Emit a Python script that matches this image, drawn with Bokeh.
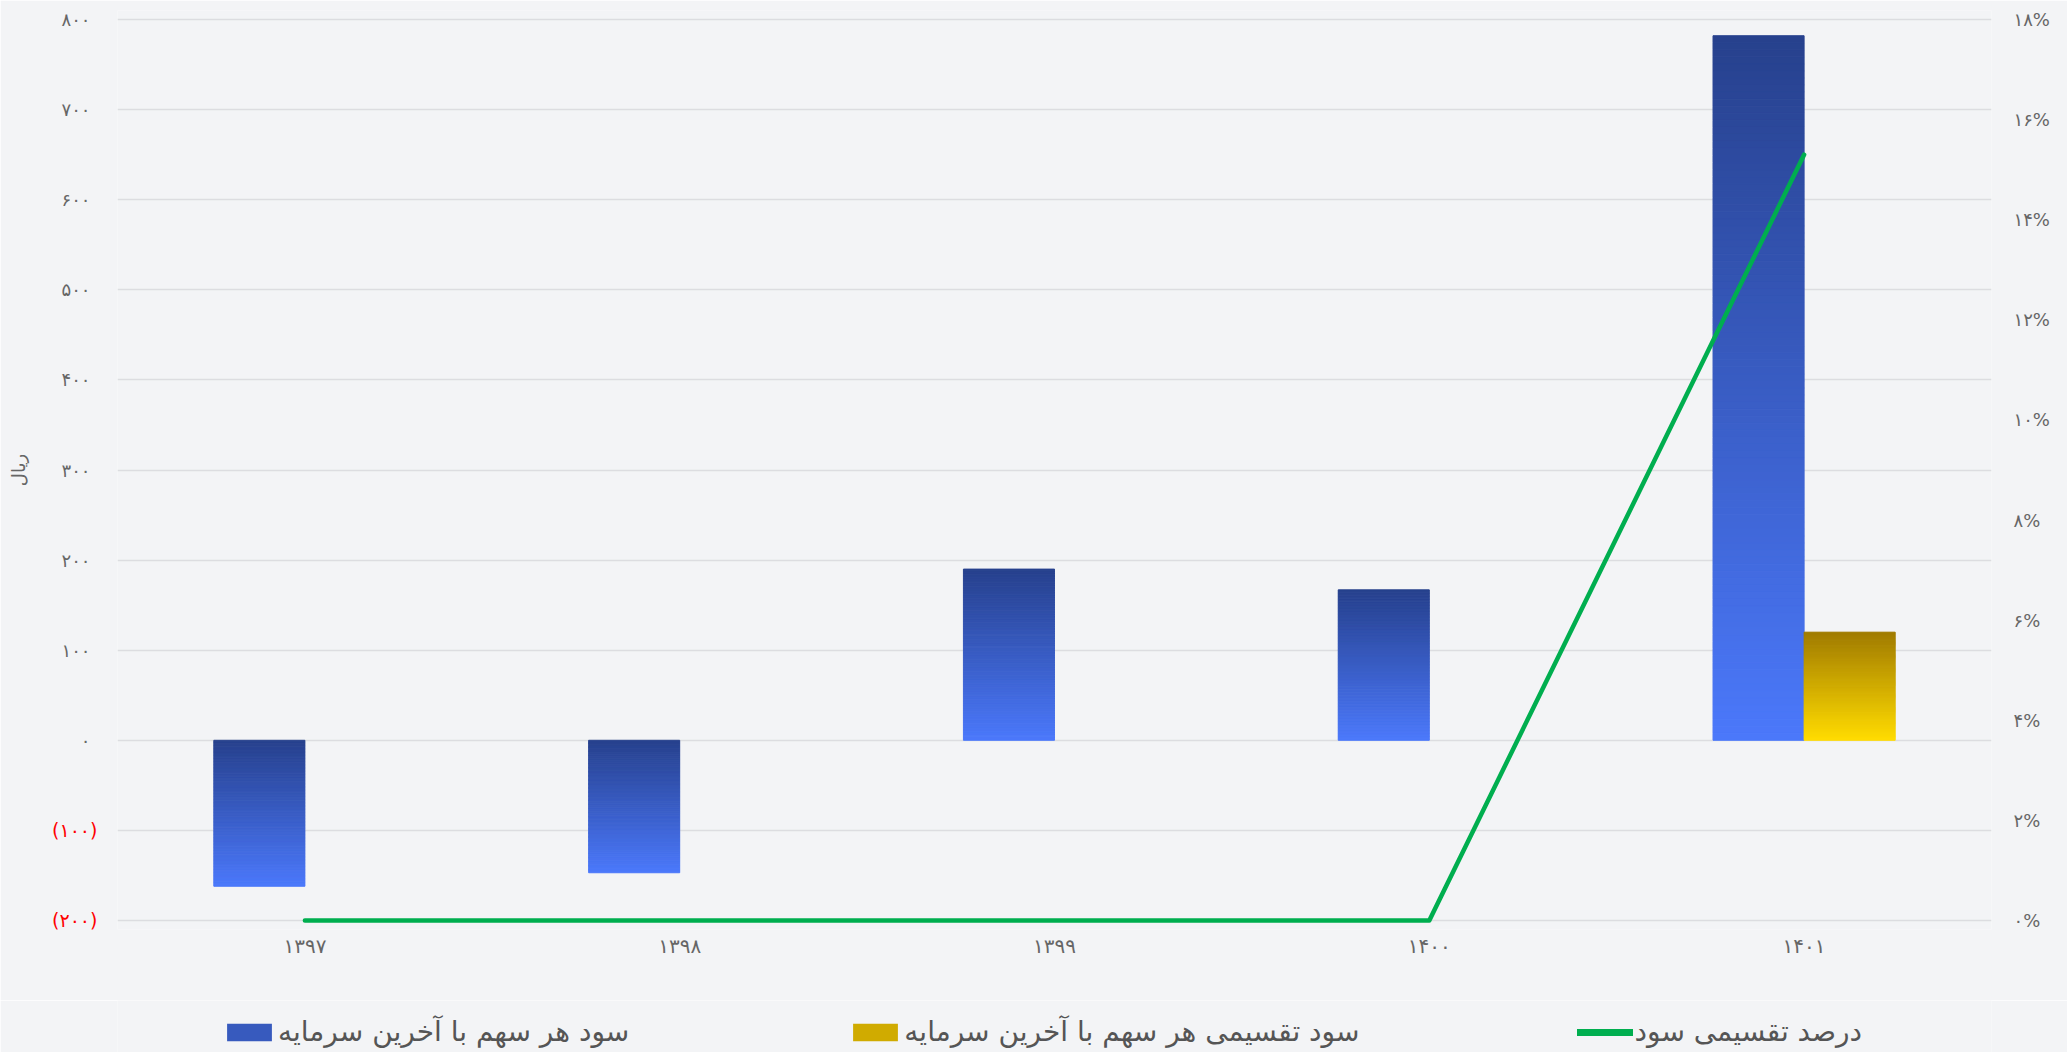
import numpy as np
from bokeh.plotting import figure
from bokeh.layouts import column
from bokeh.models import (ColumnDataSource, Range1d, FactorRange, LinearAxis, FixedTicker,
                          Legend, LegendItem)
from bokeh.embed import file_html
from bokeh.resources import INLINE
from bokeh.transform import dodge

# ---------------- data ----------------
years = ["۱۳۹۷", "۱۳۹۸", "۱۳۹۹", "۱۴۰۰", "۱۴۰۱"]
eps_latest_capital = [-162, -147, 190, 167, 782]
dps_latest_capital = [0, 0, 0, 0, 120]
payout_ratio_pct = [0, 0, 0, 0, 15.3]

left_ticks = [-200, -100, 0, 100, 200, 300, 400, 500, 600, 700, 800]
left_tick_labels = ["(۲۰۰)", "(۱۰۰)", "۰", "۱۰۰", "۲۰۰", "۳۰۰", "۴۰۰", "۵۰۰", "۶۰۰", "۷۰۰", "۸۰۰"]
right_ticks = [0, 2, 4, 6, 8, 10, 12, 14, 16, 18]
right_tick_labels = ["۰%", "۲%", "۴%", "۶%", "۸%", "۱۰%", "۱۲%", "۱۴%", "۱۶%", "۱۸%"]

series_names = ["سود هر سهم با آخرین سرمایه",
                "سود تقسیمی هر سهم با آخرین سرمایه",
                "درصد تقسیمی سود"]
y_axis_title = "ریال"

# ---------------- style ----------------
BG = "#F3F4F6"
GRID = "#DCDDE0"
TXT = "#666666"
FONT = "DejaVu Sans"
BLUE_TOP, BLUE_BOT = "#27418D", "#4B78FA"
GOLD_TOP, GOLD_BOT = "#A07B00", "#FFDB00"
GREEN = "#00AE4F"
BAR_W = 0.243
N_SLICES = 100
TICK_FS = "18px"


def _rgb(h):
    h = h.lstrip("#")
    return np.array([int(h[i:i + 2], 16) for i in (0, 2, 4)], dtype=float)


def _mix(c1, c2, t):
    c = _rgb(c1) + (_rgb(c2) - _rgb(c1)) * t
    return "#%02x%02x%02x" % tuple(int(round(k)) for k in c)


def gradient_source(values, c_top, c_bot):
    xs, bots, tops, cols = [], [], [], []
    for yr, v in zip(years, values):
        if v == 0:
            continue
        hi, lo = max(v, 0), min(v, 0)
        step = (hi - lo) / N_SLICES
        for i in range(N_SLICES):
            xs.append(yr)
            tops.append(hi - i * step)
            bots.append(hi - (i + 1) * step)
            cols.append(_mix(c_top, c_bot, i / (N_SLICES - 1)))
    return ColumnDataSource(dict(x=xs, top=tops, bottom=bots, color=cols))


W = 2067
MAIN_H = 1000
LEG_H = 52
FRAME_L = 117

p = figure(x_range=FactorRange(*years, range_padding=0),
           y_range=Range1d(-210, 810),
           width=W, height=MAIN_H,
           min_border_left=FRAME_L, min_border_right=76,
           min_border_top=10, min_border_bottom=MAIN_H - 929,
           output_backend="svg", toolbar_location=None,
           background_fill_color=BG, border_fill_color=BG,
           outline_line_color=None)

p.extra_y_ranges = {"pct": Range1d(-0.18, 18.18)}

# grid
p.xgrid.grid_line_color = None
p.ygrid.ticker = FixedTicker(ticks=left_ticks)
p.ygrid.grid_line_color = GRID
p.ygrid.grid_line_width = 1.5

# bars (vertical gradient built from thin slices)
src_blue = gradient_source(eps_latest_capital, BLUE_TOP, BLUE_BOT)
src_gold = gradient_source(dps_latest_capital, GOLD_TOP, GOLD_BOT)
p.vbar(x=dodge("x", -BAR_W / 2, range=p.x_range), width=BAR_W,
       top="top", bottom="bottom", source=src_blue,
       fill_color="color", line_color="color", line_width=1)
p.vbar(x=dodge("x", BAR_W / 2, range=p.x_range), width=BAR_W,
       top="top", bottom="bottom", source=src_gold,
       fill_color="color", line_color="color", line_width=1)

# payout line
src_line = ColumnDataSource(dict(x=years, y=payout_ratio_pct))
p.line(x="x", y="y", source=src_line, y_range_name="pct",
       line_color=GREEN, line_width=4.5, line_cap="round", line_join="round")


def style_axis(a, color=TXT, size=TICK_FS):
    a.axis_line_color = None
    a.major_tick_line_color = None
    a.minor_tick_line_color = None
    a.major_tick_out = 0
    a.major_tick_in = 0
    a.major_label_text_color = color
    a.major_label_text_font = FONT
    a.major_label_text_font_size = size


# left axis (inner): non-negative values in grey
ax = p.yaxis[0]
ax.ticker = FixedTicker(ticks=left_ticks)
ax.major_label_overrides = {t: (l if t >= 0 else "") for t, l in zip(left_ticks, left_tick_labels)}
style_axis(ax)
ax.major_label_standoff = 27

# left axis (outer): negative values in red, pulled back over the inner axis
neg_ticks = [t for t in left_ticks if t < 0]
ax_neg = LinearAxis(ticker=FixedTicker(ticks=neg_ticks))
ax_neg.major_label_overrides = {t: l for t, l in zip(left_ticks, left_tick_labels) if t < 0}
style_axis(ax_neg, color="#FF0000", size="19px")
ax_neg.major_label_standoff = -39
ax_neg.axis_label = y_axis_title
ax_neg.axis_label_text_font = FONT
ax_neg.axis_label_text_font_size = "18px"
ax_neg.axis_label_text_font_style = "normal"
ax_neg.axis_label_text_color = TXT
ax_neg.axis_label_standoff = 20
p.add_layout(ax_neg, "left")

# right axis
rax = LinearAxis(y_range_name="pct", ticker=FixedTicker(ticks=right_ticks))
rax.major_label_overrides = {t: l for t, l in zip(right_ticks, right_tick_labels)}
style_axis(rax)
rax.major_label_standoff = 22
p.add_layout(rax, "right")

# x axis
xa = p.xaxis[0]
style_axis(xa, size="20px")
xa.major_label_standoff = 4

# ---------------- legend strip ----------------
leg = figure(width=W, height=LEG_H, output_backend="svg", toolbar_location=None,
             x_axis_location=None, y_axis_location=None,
             min_border=0, background_fill_color=BG, border_fill_color=BG,
             outline_line_color=None)
leg.grid.grid_line_color = None
nothing = ColumnDataSource(dict(x=[np.nan], y=[np.nan], top=[np.nan]))
g1 = leg.vbar(x="x", top="top", width=1, source=nothing,
              fill_color=_mix(BLUE_TOP, BLUE_BOT, 0.45), line_color=None)
g2 = leg.vbar(x="x", top="top", width=1, source=nothing,
              fill_color=_mix(GOLD_TOP, GOLD_BOT, 0.5), line_color=None)
g3 = leg.line(x="x", y="y", source=nothing, line_color=GREEN, line_width=7, line_cap="round")

legend = Legend(items=[
    LegendItem(label=series_names[0], renderers=[g1]),
    LegendItem(label=series_names[1], renderers=[g2]),
    LegendItem(label=series_names[2], renderers=[g3]),
], orientation="horizontal", location=(224 - 3 - FRAME_L, 4),
    glyph_width=56, glyph_height=22, label_standoff=1, spacing=218, padding=0,
    background_fill_alpha=0, border_line_color=None,
    label_text_font=FONT, label_text_font_size="28px", label_text_color="#555555")
leg.add_layout(legend)

layout = column(p, leg, spacing=0)
open("out.html", "w").write(file_html(layout, INLINE))
